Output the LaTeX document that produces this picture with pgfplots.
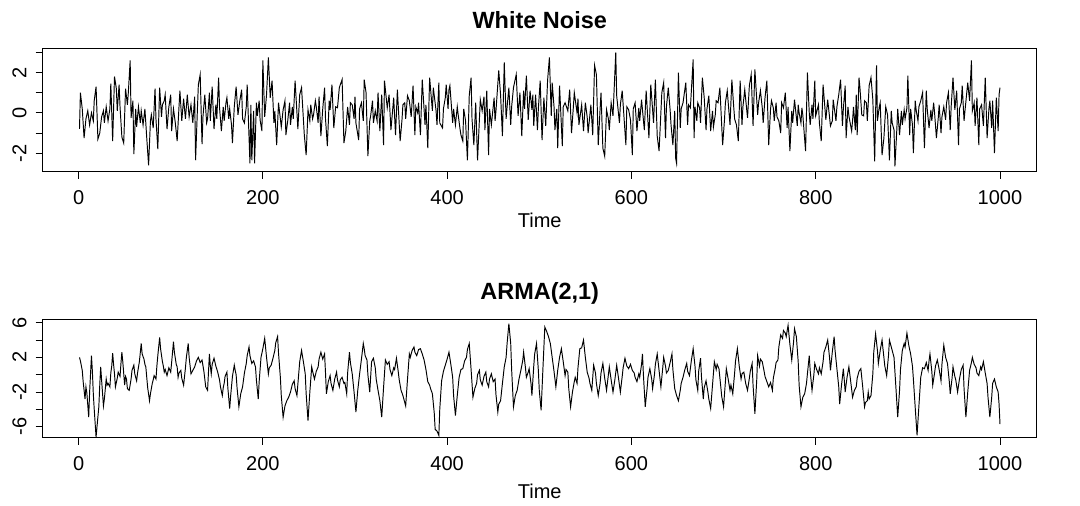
\documentclass[border=0pt]{standalone}
\usepackage{fontspec}
\setmainfont{Liberation Sans}
\usepackage{pgfplots}
\pgfplotsset{compat=1.18}
\pgfplotsset{
  rstyle/.style={
    scale only axis, width=745.6pt,
    xmin=-38.96, xmax=1039.96,
    axis line style={line width=0.6pt},
    every tick/.style={line width=0.6pt, black},
    tick align=outside, tick pos=left, major tick length=5.25pt,
    xtick={0,200,400,600,800,1000},
    xticklabels={0,200,400,600,800,1000},
    xticklabel style={anchor=base, font=\fontsize{15}{17}\selectfont},
    xticklabel shift=19pt,
    yticklabel style={rotate=90, anchor=base, font=\fontsize{15}{17}\selectfont},
    yticklabel shift=7pt,
    title style={at={(0.5,1)}, anchor=base, yshift=9pt, font=\bfseries\fontsize{17.6}{20}\selectfont},
    xlabel style={at={(0.5,0)}, anchor=base, font=\fontsize{15}{17}\selectfont},
    clip=true,
  }
}
\begin{document}
\begin{tikzpicture}
\path[use as bounding box] (0,0) rectangle (810pt,379.5pt);
\begin{axis}[rstyle,
  at={(32.0pt,250.7pt)}, anchor=south west,
  height=92.55pt, ymin=-2.92, ymax=3.2,
  ytick={-2,-1,0,1,2,3}, yticklabels={-2,,0,,2,},
  title={White Noise}, xlabel={Time},
  xlabel style={yshift=-42pt},
]
\addplot[black, line width=0.72pt] coordinates {
(1,-0.8)(2,1.0)(4,0.2)(6,-1.25)(8,-0.3)(10,0.1)(12,-0.6)(14,0.0)(16,-0.4)(17,0.6)(19,1.3)(21,-1.3)(23,-1.0)(25,-0.2)(27,0.1)(28,-0.5)(30,0.3)(32,-0.4)(34,0.2)(35,1.45)(37,-1.4)(39,1.8)(41,1.2)(42,0.1)(44,1.4)(45,0.3)(47,-1.2)(49,-1.5)(51,1.2)(53,0.4)(54,1.0)(56,2.6)(57,-0.25)(59,0.6)(60,-2.05)(62,0.2)(63,-0.7)(65,0.3)(67,-0.5)(68,0.1)(70,-0.6)(72,0.2)(74,-1.25)(76,-2.6)(78,-0.4)(79,-0.1)(81,-0.75)(83,1.2)(84,-0.3)(86,-1.8)(88,1.25)(90,-0.2)(91,0.4)(93,0.6)(94,0.9)(96,-0.8)(98,0.3)(100,0.9)(101,-0.9)(103,0.2)(105,-0.5)(107,-1.4)(109,0.3)(110,1.1)(112,-0.4)(114,0.7)(116,-0.3)(118,0.9)(120,-0.2)(122,0.4)(124,-0.5)(126,0.8)(127,-2.35)(129,0.2)(130,1.4)(132,1.9)(134,-1.55)(135,-0.2)(137,0.9)(139,-0.5)(140,-0.3)(142,1.0)(143,-0.4)(145,1.3)(147,-0.8)(149,0.4)(150,-0.3)(152,1.75)(153,0.25)(155,-0.9)(157,0.3)(158,-0.4)(160,0.5)(161,0.75)(163,-0.3)(164,0.2)(166,-0.6)(167,-1.5)(169,0.3)(171,1.3)(173,-0.1)(175,0.6)(177,1.15)(178,-0.3)(180,-0.5)(182,0.3)(183,1.4)(186,-2.5)(187,0.4)(188,-2.35)(190,0.1)(191,-2.5)(193,0.5)(194,-0.15)(196,0.6)(197,-0.35)(199,-0.9)(200,2.6)(202,-0.2)(204,0.9)(206,2.75)(208,0.75)(210,1.6)(212,-0.5)(213,0.1)(215,-1.6)(217,0.5)(218,0.1)(220,-0.7)(222,0.15)(224,0.6)(225,-1.1)(227,-0.4)(229,0.5)(230,-0.6)(232,0.3)(233,-0.3)(235,1.6)(237,0.0)(238,-0.8)(240,0.9)(242,1.25)(245,-1.1)(247,-2.1)(249,0.15)(251,-0.4)(252,0.4)(254,-0.3)(255,-0.1)(257,0.6)(258,0.3)(260,-0.5)(261,0.8)(263,-1.15)(265,0.2)(267,1.25)(268,-0.3)(270,-1.65)(272,0.6)(273,0.15)(275,1.4)(277,-0.75)(279,0.3)(281,0.25)(283,1.25)(286,1.65)(288,-1.5)(290,-0.9)(292,0.3)(294,-0.6)(295,0.5)(297,0.4)(299,-0.3)(300,0.8)(301,-0.5)(304,-1.35)(305,0.2)(307,0.5)(309,-0.4)(310,1.65)(312,1.0)(314,-2.15)(316,-0.4)(317,-0.15)(319,0.6)(320,-0.5)(322,0.1)(324,-0.4)(325,1.0)(327,-0.9)(329,0.9)(331,-1.6)(332,1.6)(335,0.25)(337,0.9)(339,-0.85)(342,0.75)(344,-1.1)(346,1.15)(349,-1.4)(351,-0.35)(352,0.4)(354,0.5)(355,-0.3)(357,0.85)(359,0.6)(361,-0.2)(363,1.35)(365,-1.1)(366,0.3)(368,0.0)(369,0.5)(371,-1.1)(373,1.65)(376,-0.6)(377,0.4)(379,-1.75)(381,1.75)(384,0.1)(385,1.25)(388,0.1)(389,-0.6)(391,1.5)(392,-0.5)(395,-0.75)(396,0.2)(398,0.75)(399,1.4)(401,0.2)(402,1.15)(403,1.35)(406,-0.5)(407,0.2)(409,-0.6)(411,0.3)(412,-0.1)(414,-0.8)(415,-1.1)(417,-1.4)(418,0.2)(420,-0.4)(422,-2.35)(424,0.85)(426,1.75)(427,-0.3)(429,-1.6)(431,0.5)(433,-2.35)(436,0.65)(438,0.1)(440,0.8)(441,-0.85)(443,1.1)(445,-2.1)(446,0.2)(448,-0.6)(451,0.75)(452,-0.4)(453,0.1)(456,2.1)(458,0.9)(460,-1.15)(462,2.5)(464,-0.3)(465,0.25)(467,1.25)(469,-0.6)(470,0.3)(472,1.25)(475,1.9)(477,-0.15)(479,1.0)(481,-1.15)(483,1.1)(484,0.2)(486,1.85)(488,-0.35)(490,1.1)(492,0.15)(493,0.9)(494,-0.65)(496,0.9)(498,-0.85)(499,0.2)(501,1.6)(503,-1.35)(505,0.75)(507,-0.65)(509,1.6)(511,2.75)(513,-0.15)(514,1.5)(516,0.3)(517,-0.85)(519,0.2)(520,-1.75)(522,1.35)(525,-1.65)(526,0.3)(528,0.5)(531,0.1)(533,1.15)(535,-1.0)(537,0.3)(538,1.0)(541,0.0)(542,0.7)(543,-0.6)(546,0.4)(548,-0.9)(550,0.5)(552,-0.2)(553,-1.0)(556,0.4)(558,-1.1)(560,2.35)(562,1.9)(564,-1.6)(566,0.2)(567,1.0)(569,-1.75)(571,-2.15)(573,0.15)(575,-0.3)(576,-0.85)(578,0.5)(580,-0.15)(583,3.0)(584,0.85)(587,-0.5)(588,0.4)(590,1.1)(592,-0.25)(594,-1.6)(595,0.3)(597,0.15)(599,-0.35)(601,-2.1)(602,0.2)(604,0.5)(606,-0.9)(608,0.25)(609,-0.4)(611,0.65)(614,-0.85)(616,1.1)(619,-1.25)(621,1.4)(623,0.15)(624,-0.5)(626,1.65)(628,-1.15)(630,-1.9)(633,1.0)(635,1.5)(637,-1.25)(638,0.3)(640,1.25)(642,0.15)(643,-0.6)(645,-1.6)(647,0.1)(648,-2.25)(649,-2.5)(651,2.0)(653,-0.75)(654,0.2)(656,0.5)(659,1.5)(661,-0.6)(662,0.4)(664,0.25)(667,2.65)(668,-1.25)(669,0.3)(671,-0.4)(672,0.5)(674,0.25)(675,-0.5)(677,1.75)(679,0.75)(681,-0.85)(682,0.2)(684,0.85)(686,-0.9)(688,0.1)(689,-0.7)(691,-0.1)(692,0.6)(694,0.5)(696,1.25)(699,-1.6)(701,-0.35)(702,0.5)(704,1.1)(707,-0.6)(709,1.65)(711,0.3)(712,-0.3)(714,-0.6)(716,-1.4)(718,1.6)(720,-0.6)(721,0.3)(723,1.15)(726,-0.25)(728,1.35)(730,1.9)(732,-0.65)(734,2.15)(737,-0.1)(738,0.5)(740,1.1)(742,0.25)(743,-0.5)(745,0.75)(747,1.6)(749,-1.6)(751,0.2)(752,0.6)(754,0.25)(755,-0.4)(757,0.5)(758,-0.2)(760,-0.4)(762,-1.0)(763,0.5)(765,0.25)(767,1.0)(769,-0.75)(770,0.3)(772,-1.9)(774,0.1)(775,-0.5)(777,0.65)(780,-0.65)(781,0.4)(782,0.0)(784,-0.5)(785,0.25)(786,-0.1)(789,-1.9)(791,2.0)(793,0.0)(794,-0.6)(796,0.4)(797,-0.3)(799,1.6)(800,-0.15)(803,0.4)(804,-0.5)(806,-1.4)(808,1.4)(811,-0.35)(813,0.65)(815,-0.2)(816,-0.65)(818,-0.4)(819,0.65)(822,-0.4)(823,0.3)(825,0.9)(827,1.65)(829,-0.65)(830,0.2)(832,1.35)(833,-1.25)(835,0.3)(836,-0.15)(839,-0.9)(840,-0.4)(841,0.3)(843,-0.85)(844,0.9)(845,-1.1)(847,1.75)(848,1.25)(850,-0.1)(852,-0.15)(853,0.6)(855,0.5)(856,-0.4)(858,1.35)(860,1.75)(862,0.65)(864,-2.4)(866,2.35)(867,-0.4)(869,0.3)(870,0.5)(872,-2.1)(874,-1.25)(876,0.3)(878,-0.1)(880,-2.35)(882,0.1)(883,-0.5)(885,-0.85)(886,-2.65)(888,-0.85)(889,0.2)(891,-1.1)(893,0.1)(894,-0.6)(896,0.15)(897,-0.3)(899,0.25)(900,1.85)(902,-1.1)(903,0.2)(905,-0.6)(906,-2.0)(908,0.6)(909,0.15)(911,-0.4)(912,0.3)(914,0.6)(916,1.0)(918,-1.75)(920,1.1)(921,0.2)(923,-0.75)(925,0.15)(926,-0.4)(928,0.5)(929,0.0)(931,-1.25)(933,-0.25)(934,0.4)(936,-1.0)(937,-0.2)(939,0.3)(941,-0.35)(942,0.5)(944,1.0)(946,-0.85)(947,0.3)(949,1.75)(951,0.15)(953,1.1)(955,-1.6)(956,0.2)(958,0.5)(959,1.35)(961,-0.4)(962,0.1)(965,1.5)(967,0.6)(969,2.6)(970,0.1)(972,0.5)(973,-0.65)(975,0.75)(977,-1.6)(978,0.2)(980,0.4)(982,-0.65)(984,1.75)(986,-1.25)(988,0.2)(989,0.6)(991,-0.75)(992,0.6)(994,-2.0)(996,0.75)(998,-0.9)(999,0.9)(1000,1.25)
};
\end{axis}
\begin{axis}[rstyle,
  at={(32.0pt,51.2pt)}, anchor=south west,
  height=88.8pt, ymin=-7.27, ymax=6.39,
  ytick={-6,-4,-2,0,2,4,6}, yticklabels={-6,,-2,,2,,6},
  title={ARMA(2,1)}, xlabel={Time},
  xlabel style={yshift=-45.5pt},
]
\addplot[black, line width=0.72pt] coordinates {
(1,2.0)(2,1.6)(4,0.5)(5,-0.8)(7,-2.8)(8,-1.4)(9,-2.1)(11,-4.9)(12,-2.0)(14,2.2)(15,0.4)(16,-2.2)(17,-4.0)(19,-7.2)(20,-6.0)(22,-3.7)(23,-1.2)(24,0.9)(25,-0.6)(27,-3.6)(28,-2.8)(30,-0.5)(31,-1.2)(32,-1.0)(34,-1.4)(35,0.2)(36,1.0)(37,2.5)(38,1.2)(39,0.1)(40,-1.4)(42,-0.4)(43,0.3)(45,-0.2)(46,1.3)(47,2.6)(48,1.5)(50,-1.2)(51,-0.2)(52,-0.5)(53,-1.6)(55,-1.8)(57,-0.5)(58,0.5)(60,1.1)(61,0.1)(63,-0.7)(64,0.2)(66,1.5)(68,3.6)(69,2.4)(71,1.8)(72,1.2)(73,0.9)(75,-1.5)(77,-3.0)(78,-2.2)(80,-1.0)(81,-0.6)(82,-0.1)(84,-0.5)(85,1.0)(86,2.2)(88,4.3)(89,3.0)(91,1.5)(92,1.0)(93,0.3)(94,0.6)(96,-0.1)(98,0.8)(100,0.3)(101,1.4)(103,3.8)(104,2.6)(106,1.2)(107,0.9)(108,-0.3)(109,0.2)(111,0.5)(112,-0.4)(114,-1.2)(116,0.8)(117,2.0)(119,3.6)(120,2.0)(122,0.1)(124,0.5)(126,0.9)(128,1.6)(130,2.0)(132,1.4)(134,1.7)(136,0.4)(138,-1.4)(140,-1.8)(142,2.4)(143,1.0)(144,0.1)(145,1.2)(147,1.9)(149,1.0)(151,0.3)(153,-0.6)(154,-1.4)(156,-2.4)(157,-1.5)(158,-1.0)(159,-0.2)(161,0.3)(162,-1.5)(164,-3.9)(165,-2.5)(167,-0.2)(169,1.1)(170,0.5)(171,0.0)(172,-1.5)(174,-3.7)(176,-2.2)(178,-1.4)(180,0.2)(182,1.3)(183,2.2)(185,3.2)(186,2.2)(188,1.3)(190,1.6)(192,0.9)(193,-0.6)(195,-2.8)(196,-0.8)(198,2.0)(200,3.0)(202,4.2)(204,2.0)(206,0.1)(207,0.8)(209,1.1)(211,1.9)(213,2.8)(214,3.7)(216,4.4)(217,2.5)(219,-0.3)(220,-2.4)(222,-4.9)(224,-3.6)(226,-3.0)(228,-2.6)(230,-2.0)(232,-1.1)(234,-0.7)(235,-1.6)(237,-2.4)(239,0.2)(240,1.5)(242,2.8)(244,1.5)(246,0.1)(247,-2.2)(249,-5.3)(251,-2.0)(253,0.9)(254,0.4)(256,-0.5)(258,0.4)(260,0.9)(261,1.8)(263,2.6)(265,1.8)(267,2.4)(268,0.2)(269,-2.2)(271,-0.8)(273,-0.1)(274,-1.0)(276,-1.8)(278,-0.5)(280,0.3)(281,-0.6)(283,-1.4)(284,-0.6)(286,-0.3)(288,-1.0)(289,-0.9)(291,-2.2)(292,0.2)(294,2.6)(295,1.4)(297,0.1)(299,-2.0)(301,-4.3)(303,-1.8)(305,0.1)(307,1.8)(309,3.6)(310,3.0)(311,2.2)(313,1.7)(314,0.0)(316,-2.0)(318,1.5)(320,1.9)(322,0.8)(323,-0.5)(325,-1.8)(327,-3.0)(329,-4.9)(331,-1.5)(333,1.7)(335,1.2)(337,1.5)(338,0.6)(340,-0.1)(342,0.8)(343,0.6)(345,1.9)(347,0.3)(348,-0.6)(350,-1.8)(352,-2.4)(355,-3.6)(357,-0.5)(359,2.4)(360,2.0)(362,2.8)(364,3.2)(365,2.6)(367,2.2)(369,2.9)(371,3.0)(373,2.4)(375,1.7)(377,0.6)(379,-0.8)(381,-1.2)(382,-1.6)(384,-2.2)(386,-4.4)(387,-6.3)(389,-6.5)(391,-7.0)(392,-4.0)(394,-0.7)(396,0.4)(398,1.1)(400,1.8)(402,2.6)(404,1.2)(406,-0.3)(407,-2.4)(409,-4.7)(411,-2.4)(413,-0.3)(415,0.6)(417,0.7)(419,1.6)(421,2.0)(422,2.9)(424,3.6)(426,0.6)(428,-2.6)(430,-1.6)(432,-1.0)(433,0.0)(435,0.5)(436,-0.6)(438,-1.2)(440,-0.2)(442,0.3)(443,-0.8)(445,-1.4)(446,-0.5)(448,0.1)(450,-0.8)(452,-0.5)(453,-2.3)(455,-4.3)(456,-3.4)(458,-3.0)(460,-1.0)(462,0.9)(464,2.0)(465,3.5)(467,5.9)(469,3.6)(470,0.6)(472,-3.7)(474,-2.4)(476,-1.8)(478,-0.5)(480,0.5)(482,1.6)(483,2.6)(485,0.8)(486,-0.3)(488,0.3)(489,0.7)(491,-1.0)(492,-2.4)(494,1.0)(495,2.4)(497,3.6)(499,0.5)(500,-1.8)(502,-4.1)(504,0.8)(506,5.5)(508,5.0)(510,4.4)(512,3.6)(514,2.0)(516,0.4)(518,-1.4)(520,0.5)(522,2.0)(524,3.0)(526,1.5)(528,-0.1)(529,0.6)(531,0.3)(532,-1.6)(534,-3.7)(536,-2.0)(538,-0.8)(539,-0.3)(541,-1.0)(542,0.8)(544,3.0)(546,3.1)(548,4.0)(550,2.0)(552,0.3)(554,-0.4)(555,-1.0)(557,-1.8)(559,1.1)(561,0.2)(562,-1.0)(564,-2.4)(566,-1.0)(567,0.2)(569,1.3)(571,-0.4)(573,-1.8)(575,0.0)(576,0.9)(578,-0.6)(580,-2.0)(582,-0.6)(584,1.1)(586,-0.4)(588,-2.0)(590,-0.2)(591,0.8)(593,1.9)(595,1.0)(597,0.7)(599,1.2)(601,0.5)(603,0.2)(604,-0.3)(606,-0.8)(608,0.1)(609,-0.3)(611,1.2)(612,2.4)(613,0.0)(615,-3.7)(617,-1.6)(618,-0.3)(620,0.7)(622,-0.5)(623,-1.6)(625,0.0)(626,1.2)(628,2.4)(630,0.5)(632,-1.4)(634,0.8)(635,2.0)(637,1.0)(638,0.2)(640,0.5)(642,1.4)(644,2.4)(645,0.6)(647,-1.6)(649,-2.4)(651,-3.0)(653,-1.8)(654,-1.0)(656,-0.3)(658,0.6)(660,1.3)(661,0.4)(663,-0.1)(665,1.6)(667,3.0)(669,1.0)(670,-0.6)(672,-1.8)(673,0.4)(675,1.9)(676,-0.2)(678,-2.8)(679,-1.5)(681,-0.7)(683,-2.0)(684,-2.8)(686,-3.9)(688,-1.2)(690,1.5)(692,0.6)(693,1.2)(695,0.7)(697,-1.4)(698,-2.5)(700,-3.7)(702,-0.8)(703,0.7)(705,-0.5)(707,-1.8)(708,-1.2)(710,-2.2)(712,0.2)(713,1.6)(715,3.0)(717,1.0)(719,-0.5)(720,0.1)(722,0.3)(724,-1.0)(726,-1.8)(728,-0.4)(729,0.4)(731,1.3)(732,-1.2)(734,-4.5)(736,-0.6)(737,2.2)(739,1.0)(740,1.8)(742,1.5)(744,0.4)(745,-0.2)(747,-0.8)(749,-1.4)(751,-0.9)(753,-1.8)(754,-0.4)(756,0.7)(757,1.4)(759,1.7)(760,3.2)(762,4.6)(764,4.2)(765,5.1)(767,4.8)(768,4.4)(770,5.7)(772,3.5)(774,1.7)(776,3.8)(777,5.3)(779,4.4)(781,1.5)(782,-1.2)(784,-3.7)(786,-2.6)(788,-2.2)(790,-1.0)(791,0.1)(793,2.2)(794,0.5)(796,-1.8)(798,0.0)(799,1.3)(801,0.6)(803,0.1)(804,0.8)(806,0.1)(808,1.5)(809,2.6)(811,3.2)(813,4.0)(815,2.0)(816,0.5)(818,2.6)(820,4.4)(821,2.8)(823,0.7)(825,-1.4)(826,-3.4)(828,-1.2)(830,0.7)(831,-0.6)(832,-2.0)(834,-0.3)(836,0.9)(838,-0.8)(840,-2.6)(842,-1.8)(844,-1.4)(845,-0.4)(847,0.4)(849,0.7)(851,-1.4)(853,-3.7)(854,-3.2)(856,-3.0)(857,-2.0)(858,-2.8)(860,-2.4)(862,0.1)(863,2.6)(865,4.7)(867,2.8)(868,1.3)(870,2.8)(872,4.0)(874,2.0)(875,1.0)(877,-0.1)(879,2.2)(880,4.0)(882,3.2)(885,2.0)(887,-1.4)(889,-4.9)(891,-1.8)(892,0.6)(894,2.8)(896,3.6)(897,3.2)(899,4.8)(901,3.4)(903,2.4)(905,1.0)(906,-0.5)(908,-3.8)(910,-7.0)(912,-3.6)(914,-0.3)(916,0.8)(918,0.7)(920,1.4)(922,0.5)(923,1.6)(924,2.4)(926,0.4)(927,-1.2)(929,0.2)(930,1.0)(932,1.7)(934,0.6)(936,-0.7)(937,1.2)(939,3.4)(941,2.0)(943,1.3)(945,-0.8)(946,-2.2)(948,-0.4)(949,0.9)(951,-0.2)(952,-0.6)(954,-2.0)(956,-0.5)(958,0.6)(960,1.1)(961,-1.6)(963,-4.9)(965,-2.0)(967,0.5)(969,1.4)(970,2.0)(972,1.2)(974,0.8)(975,0.2)(977,-0.1)(979,0.9)(980,0.6)(982,1.5)(984,0.2)(986,-1.0)(987,-2.6)(989,-4.9)(991,-2.6)(992,-1.0)(994,-0.5)(996,-1.4)(998,-2.0)(999,-3.4)(1000,-5.7)
};
\end{axis}
\end{tikzpicture}
\end{document}
